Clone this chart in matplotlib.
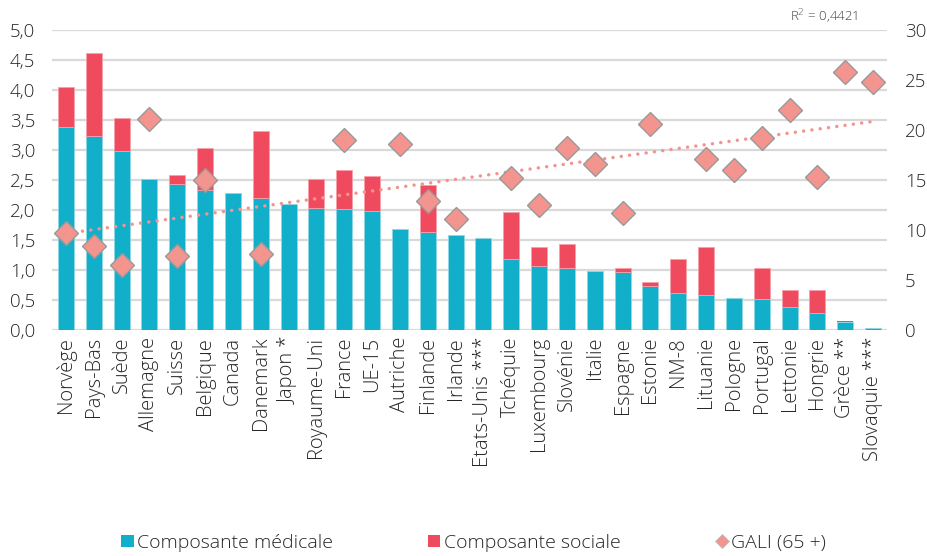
import numpy as np
import matplotlib
matplotlib.use("Agg")
import matplotlib.pyplot as plt
from matplotlib.lines import Line2D
from matplotlib.patches import Patch

plt.rcParams['font.family'] = ['Open Sans', 'DejaVu Sans']
plt.rcParams['font.weight'] = 'light'

countries = ["Norvège", "Pays-Bas", "Suède", "Allemagne", "Suisse", "Belgique", "Canada",
             "Danemark", "Japon *", "Royaume-Uni", "France", "UE-15", "Autriche", "Finlande",
             "Irlande", "Etats-Unis ***", "Tchéquie", "Luxembourg", "Slovénie", "Italie",
             "Espagne", "Estonie", "NM-8", "Lituanie", "Pologne", "Portugal", "Lettonie",
             "Hongrie", "Grèce **", "Slovaquie ***"]

medicale = [3.38, 3.24, 2.98, 2.52, 2.44, 2.33, 2.29, 2.20, 2.10, 2.03, 2.01, 1.98, 1.68, 1.63,
            1.58, 1.53, 1.18, 1.07, 1.04, 0.98, 0.96, 0.73, 0.61, 0.59, 0.53, 0.51, 0.38,
            0.29, 0.14, 0.03]
total = [4.045, 4.62, 3.54, 2.52, 2.58, 3.04, 2.29, 3.31, 2.10, 2.51, 2.67, 2.57, 1.68, 2.41,
         1.58, 1.53, 1.97, 1.39, 1.44, 0.98, 1.03, 0.80, 1.19, 1.38, 0.53, 1.03, 0.67,
         0.67, 0.155, 0.03]
sociale = [round(t - m, 3) for t, m in zip(total, medicale)]

gali = [9.7, 8.4, 6.5, 21.1, 7.4, 15.0, np.nan, 7.6, np.nan, np.nan, 19.0, np.nan, 18.6, 12.9,
        11.1, np.nan, 15.2, 12.5, 18.2, 16.6, 11.7, 20.6, np.nan, 17.1, 16.0, 19.2, 22.0,
        15.3, 25.8, 24.8]

left_ticks = [0, 0.5, 1.0, 1.5, 2.0, 2.5, 3.0, 3.5, 4.0, 4.5, 5.0]
right_ticks = [0, 5, 10, 15, 20, 25, 30]

blue = "#12AFCB"
red = "#F04A5E"
pink = "#F4948F"
txt = "#262626"

fig = plt.figure(figsize=(9.28, 5.56), dpi=100)
ax = fig.add_axes([52/928, (556-330)/556, 835/928, 300/556])
x = np.arange(len(countries))

ax.bar(x, medicale, width=0.58, color=blue, edgecolor="#8FD6E4", linewidth=0.6, zorder=3)
ax.bar(x, sociale, bottom=medicale, width=0.58, color=red, edgecolor="#F7A0AA",
       linewidth=[0.6 if s > 0.02 else 0 for s in sociale], zorder=3)

ax.set_xlim(-0.5, len(countries) - 0.5)
ax.set_ylim(0, 5.0)
ax.set_yticks(left_ticks)
ax.set_yticklabels([f"{v:.1f}".replace(".", ",") for v in left_ticks], fontsize=13.5, color=txt)
ax.yaxis.grid(True, color="#D9D9D9", linewidth=1.6, zorder=0)
ax.set_axisbelow(True)
ax.set_xticks(x)
ax.set_xticklabels(countries, rotation=90, fontsize=14.5, color=txt, va="top", ha="center")
ax.tick_params(axis="both", length=0)
ax.tick_params(axis="x", pad=5)
ax.tick_params(axis="y", pad=12)
for s in ax.spines.values():
    s.set_visible(False)

ax2 = ax.twinx()
ax2.set_ylim(0, 30)
ax2.set_yticks(right_ticks)
ax2.set_yticklabels([str(v) for v in right_ticks], fontsize=13.5, color=txt)
ax2.tick_params(axis="y", length=0, pad=13)
for s in ax2.spines.values():
    s.set_visible(False)

g = np.array(gali, dtype=float)
mask = ~np.isnan(g)
coef = np.polyfit(x[mask], g[mask], 1)
ax2.plot(x, np.polyval(coef, x), linestyle=(0, (0.01, 2.4)), color=pink, linewidth=2.5,
         dash_capstyle="round", zorder=4)
ax2.plot(x, g, linestyle="none", marker="D", markersize=12, markerfacecolor=pink,
         markeredgecolor="#999999", markeredgewidth=1.0, zorder=5)

fig.text(790/928, 1 - 17/556, "R$^2$ = 0,4421", fontsize=9.5, color="#404040", va="center", ha="left")

handles = [Patch(facecolor=blue, edgecolor="none"),
           Patch(facecolor=red, edgecolor="none"),
           Line2D([], [], linestyle="none", marker="D", markersize=7, markerfacecolor=pink,
                  markeredgecolor="#BBBBBB", markeredgewidth=0.5)]
fig.legend(handles, ["Composante médicale", "Composante sociale", "GALI (65 +)"],
           loc="center left", bbox_to_anchor=(104/928, 1 - 543/556), ncol=3, frameon=False,
           fontsize=14, handlelength=0.62, handleheight=0.62, handletextpad=0.18,
           columnspacing=4.9, labelcolor=txt)

fig.savefig("out.png", dpi=100)
